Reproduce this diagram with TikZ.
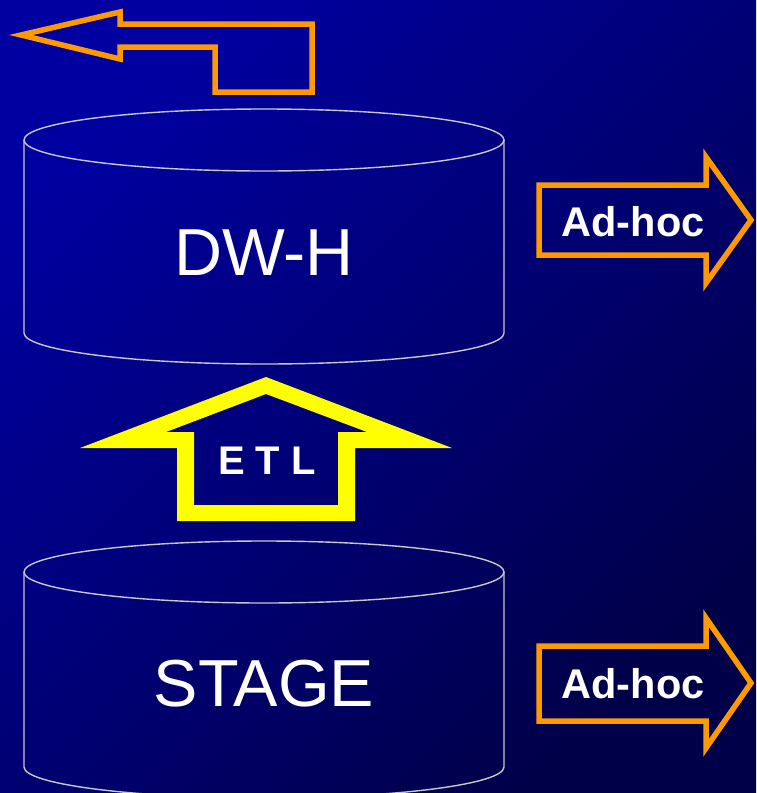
\documentclass[tikz,border=0pt]{standalone}
\usepackage{fontspec}
\setmainfont{Liberation Sans}
\definecolor{bgA}{HTML}{0000A0}
\definecolor{bgB}{HTML}{000048}
\definecolor{arroworange}{HTML}{FF9900}
\definecolor{etlyellow}{HTML}{FFFF00}
\definecolor{cylgray}{HTML}{C8C8C8}
\begin{document}
\begin{tikzpicture}[x=1pt,y=-1pt,
  cyl/.style={draw=cylgray,line width=1.4pt},
  orangearrow/.style={draw=arroworange,line width=5.5pt,line join=miter,miter limit=10},
  bigtext/.style={text=white,font=\fontsize{66.5}{80}\selectfont,inner sep=0pt},
  adhoctext/.style={text=white,font=\fontsize{41.5}{50}\selectfont\bfseries,inner sep=0pt},
  etltext/.style={text=white,font=\fontsize{40}{48}\selectfont\bfseries,inner sep=0pt}]
\useasboundingbox (0,0) rectangle (756,793);
\clip (0,0) rectangle (756,793);
\shade[top color=bgA,bottom color=bgB,shading angle=45] (0,0) rectangle (756,793);

% top-left return arrow
\draw[orangearrow] (21,35) -- (120,12) -- (120,24) -- (312,24) -- (312,92)
  -- (215,92) -- (215,47) -- (120,47) -- (120,59) -- cycle;

% DW-H cylinder
\draw[cyl] (264,140) ellipse [x radius=240,y radius=31];
\draw[cyl] (24,140) -- (24,333) arc[start angle=180,end angle=360,x radius=240,y radius=-31] -- (504,140);
\node[bigtext] (dwh) at (264,253) {DW-H};

% STAGE cylinder
\draw[cyl] (264,572) ellipse [x radius=240,y radius=31];
\draw[cyl] (24,572) -- (24,767) arc[start angle=180,end angle=360,x radius=240,y radius=-31] -- (504,572);
\node[bigtext] (stage) at (264,684) {STAGE};

% ETL arrow (outlined, filled ring)
\fill[etlyellow,even odd rule]
  (266,377) -- (452,448) -- (355,448) -- (355,521) -- (177,521) -- (177,448) -- (80,448) -- cycle
  (266,394) -- (367,432) -- (338,432) -- (338,505) -- (194,505) -- (194,432) -- (166,432) -- cycle;
\node[etltext] (etl) at (267,461) {E T L};

% Ad-hoc arrows
\draw[orangearrow] (539,185) -- (706,185) -- (706,157) -- (751,220) -- (706,283)
  -- (706,255) -- (539,255) -- cycle;
\node[adhoctext] (adhoc1) at (633,222) {Ad-hoc};

\draw[orangearrow] (539,646) -- (706,646) -- (706,618) -- (751,683) -- (706,748)
  -- (706,721) -- (539,721) -- cycle;
\node[adhoctext] (adhoc2) at (633,684) {Ad-hoc};
\end{tikzpicture}
\end{document}
